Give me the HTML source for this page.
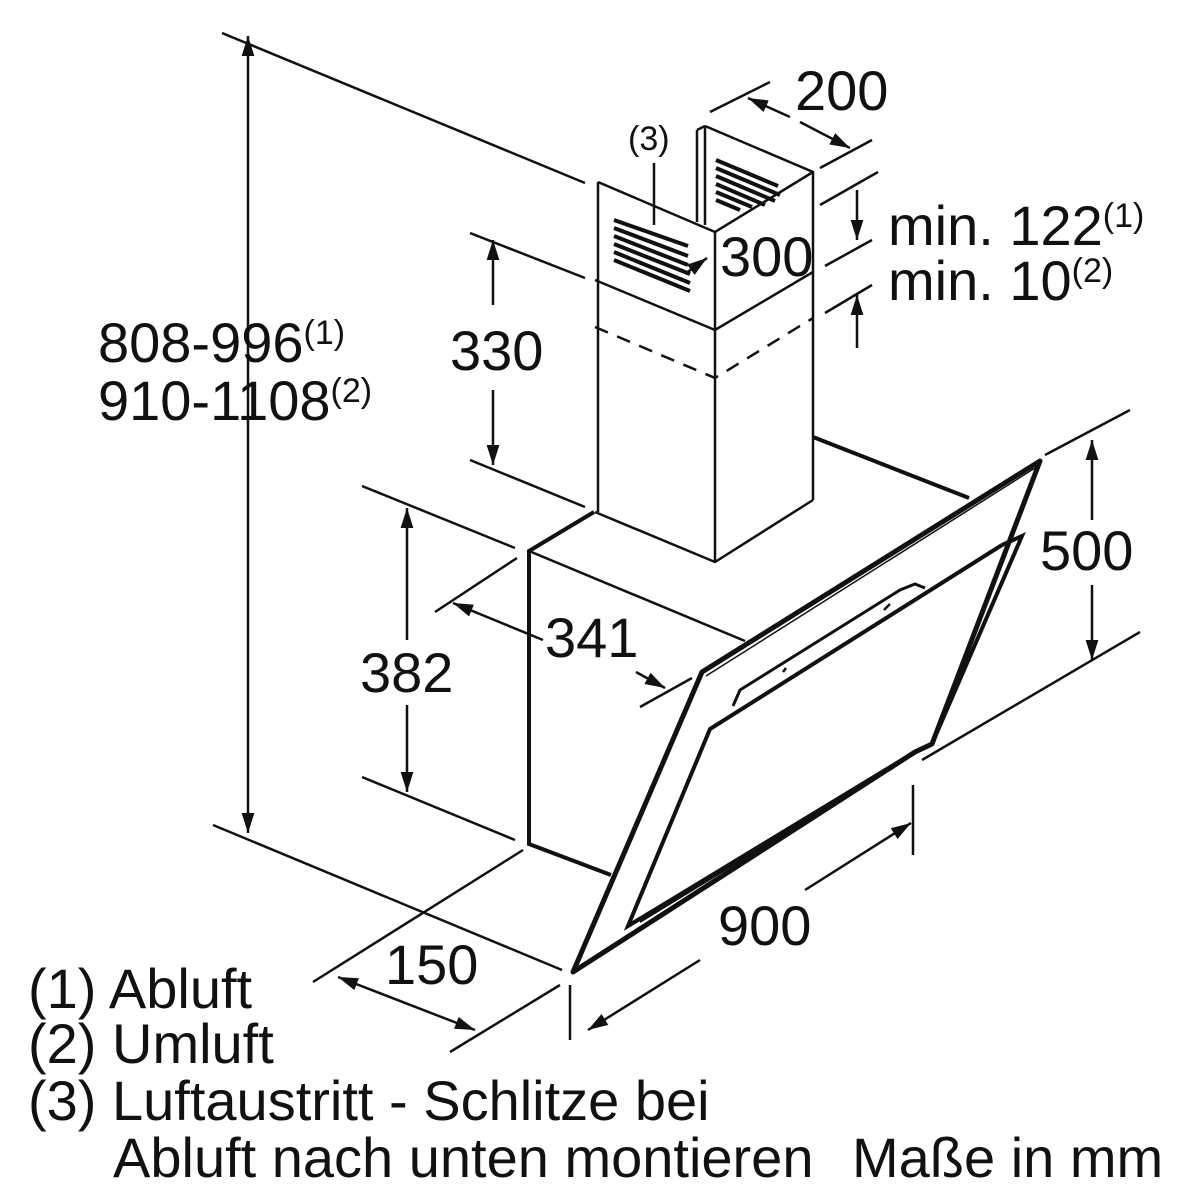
<!DOCTYPE html>
<html><head><meta charset="utf-8"><style>
html,body{margin:0;padding:0;background:#fff}
svg{display:block}
text{font-family:"Liberation Sans",sans-serif;fill:#111}
</style></head><body>
<svg width="1200" height="1200" viewBox="0 0 1200 1200" xmlns="http://www.w3.org/2000/svg">
<defs>
<marker id="a" viewBox="0 0 10 10" refX="10" refY="5" markerWidth="20" markerHeight="20" markerUnits="userSpaceOnUse" orient="auto-start-reverse"><path d="M0,1.8 L10,5 L0,8.2 z" fill="#111"/></marker>
</defs>
<g stroke="#111" fill="none" stroke-width="2.5">
<line x1="222" y1="33" x2="585" y2="183"/>
<line x1="213" y1="825" x2="562" y2="970"/>
<line x1="470" y1="233" x2="585" y2="278"/>
<line x1="470" y1="460" x2="585" y2="507"/>
<line x1="362" y1="486" x2="515" y2="548"/>
<line x1="362" y1="777" x2="515" y2="840"/>
<line x1="435" y1="612" x2="517" y2="558"/>
<line x1="640" y1="707" x2="692" y2="678"/>
<line x1="313" y1="982" x2="523" y2="850"/>
<line x1="450" y1="1052" x2="560" y2="985"/>
<line x1="710" y1="112" x2="770" y2="82"/>
<line x1="820" y1="168" x2="872" y2="140"/>
<line x1="820" y1="205" x2="878" y2="172"/>
<line x1="825" y1="266" x2="872" y2="240"/>
<line x1="825" y1="313" x2="872" y2="285"/>
<line x1="1045" y1="455" x2="1130" y2="410"/>
<line x1="922" y1="760" x2="1140" y2="632"/>
<line x1="913" y1="785" x2="913" y2="855"/>
<line x1="570" y1="985" x2="570" y2="1040"/>
<line x1="248" y1="36" x2="248" y2="833" marker-start="url(#a)" marker-end="url(#a)"/>
<line x1="493" y1="240" x2="493" y2="305" marker-start="url(#a)"/>
<line x1="493" y1="390" x2="493" y2="465" marker-end="url(#a)"/>
<line x1="407" y1="508" x2="407" y2="640" marker-start="url(#a)"/>
<line x1="407" y1="705" x2="407" y2="792" marker-end="url(#a)"/>
<line x1="453" y1="603" x2="543" y2="640" marker-start="url(#a)"/>
<line x1="636" y1="672" x2="665" y2="688" marker-end="url(#a)"/>
<line x1="748" y1="98" x2="790" y2="117" marker-start="url(#a)"/>
<line x1="800" y1="122" x2="850" y2="148" marker-end="url(#a)"/>
<line x1="685" y1="274" x2="707" y2="258" marker-end="url(#a)"/>
<line x1="857" y1="190" x2="857" y2="240" marker-end="url(#a)"/>
<line x1="857" y1="348" x2="857" y2="295" marker-end="url(#a)"/>
<line x1="1092" y1="440" x2="1092" y2="520" marker-start="url(#a)"/>
<line x1="1092" y1="585" x2="1092" y2="660" marker-end="url(#a)"/>
<line x1="588" y1="1030" x2="700" y2="960" marker-start="url(#a)"/>
<line x1="805" y1="890" x2="911" y2="823" marker-end="url(#a)"/>
<line x1="338" y1="977" x2="475" y2="1030" marker-start="url(#a)" marker-end="url(#a)"/>
<polyline points="598,182 715,232 813,172"/>
<polyline points="705,126 813,172 813,500"/>
<line x1="697" y1="130" x2="697" y2="222"/>
<line x1="705" y1="126" x2="705" y2="225"/>
<line x1="697" y1="130" x2="705" y2="126"/>
<line x1="598" y1="182" x2="598" y2="512"/>
<line x1="715" y1="232" x2="715" y2="562"/>
<polyline points="595,280 715,330 813,272"/>
<polyline points="595,327 715,378 813,318" stroke-dasharray="14,10"/>
<polyline points="595,512 715,562 813,500"/>
<g stroke-width="4">
<line x1="614" y1="220" x2="688" y2="246"/>
<line x1="614" y1="228" x2="688" y2="256"/>
<line x1="614" y1="236" x2="688" y2="265"/>
<line x1="614" y1="244" x2="690" y2="274"/>
<line x1="614" y1="252" x2="690" y2="283"/>
<line x1="614" y1="260" x2="690" y2="291"/>
<line x1="716" y1="160" x2="778" y2="186"/>
<line x1="716" y1="168" x2="780" y2="195"/>
<line x1="716" y1="176" x2="775" y2="201"/>
<line x1="716" y1="184" x2="765" y2="205"/>
<line x1="716" y1="192" x2="752" y2="207"/>
<line x1="716" y1="200" x2="740" y2="210"/>
</g>
<line x1="654" y1="163" x2="654" y2="225"/>
<polyline points="813,437 969,498" stroke-width="4"/>
<polyline points="594,512 529,551 529,844 611,875" stroke-width="4"/>
<line x1="529" y1="551" x2="745" y2="641"/>
<polygon points="702,672 1040,461 932,744 915,752 573,972" stroke-width="5" stroke-linejoin="round"/>
<line x1="706" y1="676" x2="1035" y2="468" stroke-width="1.5"/>
<polyline points="1002,545 1022,536 932,744" stroke-width="4"/>
<polyline points="1002,545 710,729 628,926 910,755" stroke-width="4"/>
<line x1="640" y1="922" x2="905" y2="760" stroke-width="2"/>
<path d="M733,706 L740,690 L900,590 L915,584 L925,588" stroke-width="3"/>
<line x1="884" y1="610" x2="890" y2="604"/>
<line x1="783" y1="672" x2="786" y2="668"/>
</g>
<g font-size="56">
<text x="795" y="110">200</text>
<text x="720" y="276">300</text>
<text x="888" y="245">min. 122<tspan font-size="34" dy="-18">(1)</tspan></text>
<text x="888" y="300">min. 10<tspan font-size="34" dy="-18">(2)</tspan></text>
<text x="450" y="370">330</text>
<text x="360" y="692">382</text>
<text x="545" y="657">341</text>
<text x="1040" y="570">500</text>
<text x="718" y="945">900</text>
<text x="385" y="984">150</text>
<text x="98" y="362">808-996<tspan font-size="34" dy="-18">(1)</tspan></text>
<text x="98" y="420">910-1108<tspan font-size="34" dy="-18">(2)</tspan></text>
<text x="28" y="1008">(1) Abluft</text>
<text x="28" y="1063">(2) Umluft</text>
<text x="28" y="1120">(3) Luftaustritt - Schlitze bei</text>
<text x="113" y="1177">Abluft nach unten montieren</text>
<text x="852" y="1177">Maße in mm</text>
</g>
<text x="628" y="150" font-size="34">(3)</text>
</svg>
</body></html>
